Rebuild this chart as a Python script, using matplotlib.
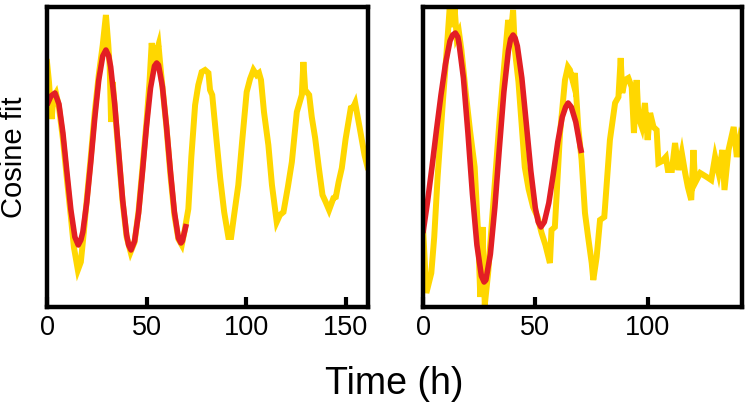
import matplotlib
matplotlib.use("Agg")
import matplotlib.pyplot as plt

plt.rcParams['font.family'] = ['Liberation Sans', 'DejaVu Sans']

# left panel: measured trace (yellow) and cosine fit (red)
left_x = [0, 1, 2.3, 3.3, 4.5, 6, 8, 10, 12, 13.5, 15.5, 17, 18.5, 20, 22, 24, 26, 28,
          29.6, 30.8, 31.5, 32.2, 33, 34, 36, 38, 40, 42, 44, 46, 48, 50, 51.5, 52.6,
          53.5, 55, 56, 57, 58, 60, 62, 64, 66, 67.7, 69, 71, 72.5, 74.4, 76, 77.7,
          79.4, 81.1, 81.9, 83, 85, 87, 89, 91.1, 92.5, 94, 96.1, 98, 100.3, 102,
          103.7, 105.3, 106.5, 107.5, 109, 111.2, 113, 115.4, 117, 118.8, 121, 123,
          125.5, 128, 128.8, 129.7, 131.7, 133, 134.7, 136.5, 138.4, 140, 141.7,
          143.9, 145.1, 146.5, 148.1, 150, 152.6, 153.9, 154.8, 157, 159.5, 161]
left_y = [245, 225, 188, 210, 214, 200, 168, 128, 90, 60, 37, 45, 75, 108, 150, 195, 232, 262,
          292, 262, 240, 185, 225, 200, 152, 105, 70, 55, 65, 96, 140, 185, 225, 264,
          245, 255, 262, 240, 220, 180, 132, 92, 68, 62, 75, 98, 150, 202, 222, 235,
          237, 234, 217, 212, 170, 129, 95, 70, 70, 92, 122, 165, 215, 228,
          237, 232, 234, 227, 195, 162, 122, 85, 92, 95, 120, 145,
          195, 212, 245, 217, 212, 190, 169, 140, 112, 105, 97,
          109, 110, 125, 139, 168, 199, 200, 204, 180, 152, 140]

left_fit_x = [0, 2, 4, 6, 8, 10, 12, 14, 15.7, 17, 18, 20, 22, 24, 26, 28, 29.6, 31, 32,
              34, 36, 38, 40, 41, 42.2, 44, 46, 48, 50, 52, 54, 55.1, 56, 58, 60, 62, 64,
              66, 67.3, 68, 70]
left_fit_y = [202, 211, 214, 203, 174, 135, 97, 70, 62, 67, 75, 105, 145, 189, 227, 251,
              257, 251, 240, 203, 155, 107, 72, 62, 57, 66, 94, 136, 181, 219, 241, 244,
              242, 220, 181, 136, 95, 69, 64, 66, 83]

# right panel
right_x = [0, 1.5, 3.7, 5, 6.5, 8.9, 10.5, 11.9, 12.8, 14.1, 15, 16, 17.1, 19, 21, 23,
           24.5, 25.5, 26.5, 27.5, 29, 30.5, 32, 34, 35.7, 37.9, 39, 40.1, 40.9, 42.5,
           44, 45.3, 47, 49, 51, 52.8, 54.5, 56.5, 57.2, 58.7, 61, 63.2, 64.5, 65.4,
           66.9, 67.6, 69.1, 70.6, 72.1, 73.5, 75.1, 75.8, 77.3, 78.8, 80.7, 83.2, 85.5,
           87, 88, 88.7, 89.9, 91.4, 92.9, 93.9, 95.1, 95.9, 97.4, 98.8, 100, 101.1,
           102.6, 104, 104.8, 106.5, 108.1, 109, 110.8, 112.2, 113.7, 115.2, 116.7,
           117.9, 119.4, 120.4, 121.1, 123.4, 126.3, 128.3, 130, 131.6, 133.3, 134.2,
           136, 138.3, 139.7, 141.2, 142.3]
right_y = [80, 14, 34, 70, 130, 207, 255, 300, 280, 298, 270, 275, 257, 215, 175, 140,
           75, 10, 80, 2, 34, 80, 125, 185, 230, 287, 270, 297, 257, 225,
           180, 140, 118, 100, 90, 74, 62, 44, 77, 80, 174, 227, 240, 237,
           224, 234, 180, 147, 94, 70, 44, 27, 50, 87, 90, 167, 204,
           210, 249, 214, 227, 229, 220, 174, 227, 190, 180, 204, 167, 194,
           180, 177, 144, 146, 150, 137, 137, 164, 137, 154, 134,
           120, 107, 157, 124, 134, 130, 127, 150, 134, 157, 117,
           157, 180, 150, 170, 164]

right_fit_x = [0, 2, 4, 6, 8, 10, 12, 13.2, 14.4, 15.5, 16, 18, 20, 22, 24, 26, 27.2, 28,
               30, 32, 34, 36, 38, 39, 40.1, 41, 42, 44, 46, 48, 50, 51.3, 52.5, 54, 56,
               58, 60, 62, 63.5, 64.6, 66, 68, 70, 70.6]
right_fit_y = [74, 105, 140, 177, 212, 243, 266, 272, 274, 270, 264, 229, 174, 113, 62, 31,
               25, 27, 53, 100, 159, 215, 256, 268, 272, 269, 261, 229, 183, 136, 99, 85,
               80, 85, 104, 133, 165, 190, 200, 204, 200, 185, 160, 154]

xticks_left = [0, 50, 100, 150]
xticks_right = [0, 50, 100]

yellow = '#FFD700'
red = '#E31E24'

fig = plt.figure(figsize=(7.47, 4.13), dpi=100)
W, H = 747, 413
ax1 = fig.add_axes([47 / W, 1 - 307 / H, 320.5 / W, 300 / H])
ax2 = fig.add_axes([423 / W, 1 - 307 / H, 319 / W, 300 / H])

panels = [(ax1, left_x, left_y, left_fit_x, left_fit_y, xticks_left, 161),
          (ax2, right_x, right_y, right_fit_x, right_fit_y, xticks_right, 142)]
for ax, x, y, fx, fy, ticks, xmax in panels:
    ax.plot(x, y, color=yellow, lw=4.3, solid_joinstyle='miter')
    ax.plot(fx, fy, color=red, lw=4.0, solid_capstyle='butt')
    ax.set_xlim(0, xmax)
    ax.set_ylim(0, 300)
    ax.set_xticks(ticks)
    ax.set_yticks([])
    ax.tick_params(axis='x', direction='in', length=7.5, width=3, pad=6, labelsize=19.5)
    for s in ax.spines.values():
        s.set_linewidth(3.2)

ax1.set_ylabel('Cosine fit', fontsize=21, labelpad=14)
fig.text((47 + 742) / 2 / W, 1 - 384 / H, 'Time (h)', fontsize=27, ha='center', va='center')

fig.savefig('out.png', dpi=100)
